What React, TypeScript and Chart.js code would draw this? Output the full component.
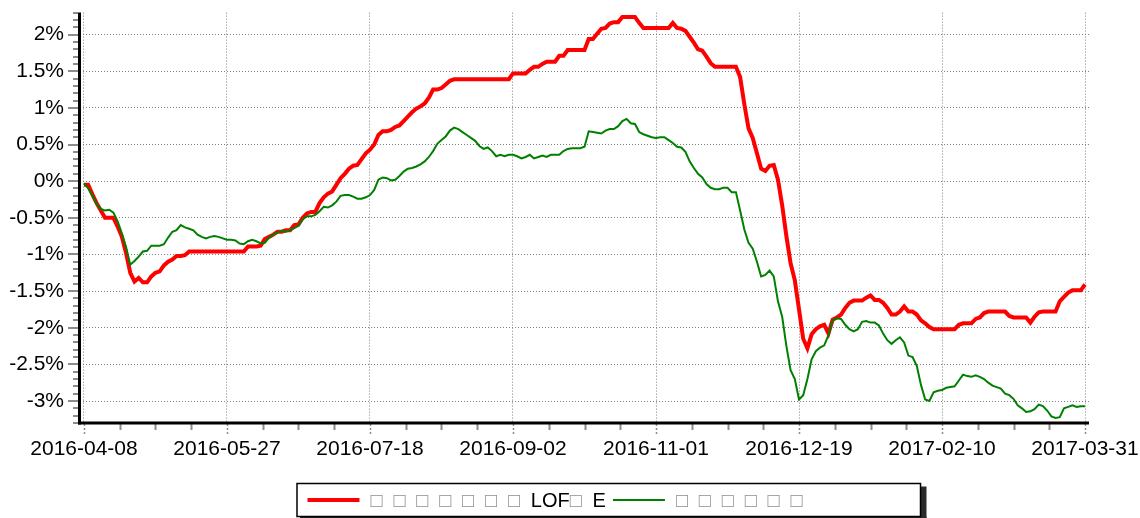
import React, { useEffect, useRef } from 'react';
import { Chart, registerables } from 'chart.js';

Chart.register(...registerables);

// ---- data ----
const tickDates = ['2016-04-08', '2016-05-27', '2016-07-18', '2016-09-02', '2016-11-01', '2016-12-19', '2017-02-10', '2017-03-31'];
const POINTS_PER_LABEL = 34;
const yTickValues = [-3, -2.5, -2, -1.5, -1, -0.5, 0, 0.5, 1, 1.5, 2];

const FUND_LABEL = '□□□□□□□LOF□E';
const BENCH_LABEL = '□□□□□□';

const fundValues = [
  -0.05, -0.05, -0.18, -0.30, -0.40, -0.50, -0.50, -0.50, -0.62, -0.76,
  -0.98, -1.25, -1.37, -1.32, -1.38, -1.38, -1.30, -1.25, -1.23, -1.15,
  -1.10, -1.07, -1.02, -1.02, -1.01, -0.96, -0.96, -0.96, -0.96, -0.96,
  -0.96, -0.96, -0.96, -0.96, -0.96, -0.96, -0.96, -0.96, -0.96, -0.89,
  -0.89, -0.89, -0.88, -0.79, -0.76, -0.73, -0.69, -0.69, -0.67, -0.67,
  -0.60, -0.59, -0.50, -0.44, -0.42, -0.42, -0.30, -0.22, -0.17, -0.14,
  -0.05, 0.04, 0.10, 0.17, 0.21, 0.22, 0.30, 0.38, 0.43, 0.50,
  0.63, 0.68, 0.68, 0.70, 0.74, 0.76, 0.82, 0.88, 0.94, 0.99,
  1.02, 1.06, 1.14, 1.25, 1.25, 1.27, 1.32, 1.37, 1.39, 1.39,
  1.39, 1.39, 1.39, 1.39, 1.39, 1.39, 1.39, 1.39, 1.39, 1.39,
  1.39, 1.39, 1.47, 1.47, 1.47, 1.47, 1.52, 1.56, 1.56, 1.60,
  1.63, 1.63, 1.63, 1.71, 1.71, 1.79, 1.79, 1.79, 1.79, 1.79,
  1.94, 1.94, 2.01, 2.08, 2.09, 2.15, 2.17, 2.17, 2.24, 2.24,
  2.24, 2.24, 2.16, 2.09, 2.09, 2.09, 2.09, 2.09, 2.09, 2.09,
  2.16, 2.09, 2.08, 2.05, 1.97, 1.89, 1.80, 1.78, 1.70, 1.61,
  1.56, 1.56, 1.56, 1.56, 1.56, 1.56, 1.42, 1.05, 0.72, 0.59,
  0.38, 0.17, 0.14, 0.21, 0.22, 0.02, -0.33, -0.75, -1.12, -1.35,
  -1.75, -2.15, -2.28, -2.09, -2.02, -1.98, -1.96, -2.08, -1.89, -1.86,
  -1.82, -1.73, -1.66, -1.63, -1.63, -1.63, -1.59, -1.56, -1.62, -1.62,
  -1.66, -1.73, -1.82, -1.82, -1.78, -1.71, -1.78, -1.78, -1.82, -1.90,
  -1.94, -1.99, -2.02, -2.02, -2.02, -2.02, -2.02, -2.02, -1.96, -1.94,
  -1.94, -1.94, -1.88, -1.86, -1.80, -1.78, -1.78, -1.78, -1.78, -1.78,
  -1.84, -1.86, -1.86, -1.86, -1.86, -1.93, -1.85, -1.79, -1.78, -1.78,
  -1.78, -1.78, -1.64, -1.58, -1.52, -1.49, -1.49, -1.49, -1.41,
];

const benchValues = [
  -0.03, -0.10, -0.20, -0.31, -0.38, -0.40, -0.39, -0.43, -0.55, -0.71,
  -0.90, -1.14, -1.09, -1.03, -0.96, -0.95, -0.88, -0.88, -0.88, -0.86,
  -0.77, -0.69, -0.67, -0.60, -0.63, -0.65, -0.67, -0.73, -0.76, -0.78,
  -0.76, -0.75, -0.76, -0.78, -0.80, -0.80, -0.81, -0.85, -0.86, -0.82,
  -0.80, -0.82, -0.85, -0.84, -0.77, -0.73, -0.70, -0.68, -0.69, -0.67,
  -0.64, -0.61, -0.52, -0.48, -0.48, -0.46, -0.41, -0.35, -0.36, -0.33,
  -0.28, -0.20, -0.19, -0.19, -0.21, -0.24, -0.24, -0.22, -0.19, -0.12,
  0.02, 0.05, 0.04, 0.01, 0.02, 0.07, 0.13, 0.17, 0.18, 0.20,
  0.23, 0.27, 0.33, 0.41, 0.51, 0.56, 0.61, 0.69, 0.73, 0.71,
  0.67, 0.63, 0.59, 0.55, 0.48, 0.44, 0.46, 0.41, 0.34, 0.36,
  0.34, 0.36, 0.36, 0.34, 0.31, 0.33, 0.36, 0.31, 0.33, 0.35,
  0.33, 0.36, 0.36, 0.36, 0.41, 0.44, 0.45, 0.45, 0.45, 0.47,
  0.68, 0.67, 0.66, 0.65, 0.69, 0.71, 0.71, 0.75, 0.82, 0.85,
  0.79, 0.78, 0.67, 0.64, 0.62, 0.60, 0.59, 0.60, 0.60, 0.56,
  0.52, 0.47, 0.46, 0.40, 0.27, 0.18, 0.10, 0.05, -0.04, -0.09,
  -0.11, -0.11, -0.09, -0.09, -0.15, -0.15, -0.40, -0.66, -0.84, -0.92,
  -1.10, -1.30, -1.28, -1.22, -1.30, -1.64, -1.85, -2.25, -2.58, -2.70,
  -2.98, -2.92, -2.70, -2.43, -2.32, -2.27, -2.24, -2.10, -1.90, -1.87,
  -1.88, -1.96, -2.02, -2.05, -2.02, -1.92, -1.91, -1.93, -1.93, -1.97,
  -2.08, -2.17, -2.22, -2.17, -2.13, -2.20, -2.38, -2.40, -2.52, -2.78,
  -2.98, -3.00, -2.88, -2.86, -2.85, -2.82, -2.81, -2.80, -2.72, -2.64,
  -2.66, -2.67, -2.65, -2.67, -2.70, -2.75, -2.79, -2.81, -2.83, -2.90,
  -2.92, -2.97, -3.06, -3.10, -3.15, -3.14, -3.11, -3.05, -3.07, -3.13,
  -3.21, -3.23, -3.22, -3.10, -3.08, -3.06, -3.08, -3.07, -3.07,
];

// ---- styling ----
const FONT = "'Liberation Sans', Arial, sans-serif";
const GRID_COLOR = '#808080';
const TICK_COLOR = '#8c8c8c';
const LAST_INDEX = fundValues.length - 1;
const X_PAD = 0.95;
const Y_MIN = -3.3;
const Y_MAX = 2.3;

const LEGEND = { left: 297, top: 483.5, right: 920.5, bottom: 516.5, lineLen: 52, baseline: 506.5, midY: 500 };
const TOFU_ADVANCE = 22.9;

const axisDecor = {
  id: 'axisDecor',
  afterDraw(chart: any) {
    const { ctx, chartArea: a } = chart;
    const xs = chart.scales.x;
    const ys = chart.scales.y;
    ctx.save();
    // y ticks (major every 0.5, minor every 0.1)
    ctx.strokeStyle = TICK_COLOR;
    ctx.lineWidth = 2;
    for (let k = Math.round(Y_MIN * 10); k <= Math.round(Y_MAX * 10); k++) {
      const py = Math.round(ys.getPixelForValue(k / 10));
      const len = k % 5 === 0 ? 10 : 5;
      ctx.beginPath();
      ctx.moveTo(a.left - 2 - len, py);
      ctx.lineTo(a.left - 2, py);
      ctx.stroke();
    }
    // x ticks (major at labels, minor at quarters)
    const quarter = POINTS_PER_LABEL / 4;
    const nq = Math.round(LAST_INDEX / quarter);
    for (let k = 0; k <= nq; k++) {
      const px = Math.round(xs.getPixelForValue(k * quarter)) + 0.5;
      const major = k % 4 === 0;
      ctx.lineWidth = major ? 1.5 : 2;
      ctx.setLineDash(major ? [2, 2] : []);
      ctx.beginPath();
      ctx.moveTo(px, a.bottom + 1);
      ctx.lineTo(px, a.bottom + (major ? 11 : 7));
      ctx.stroke();
    }
    ctx.setLineDash([]);
    // axis lines
    ctx.strokeStyle = '#000';
    ctx.lineWidth = 3;
    ctx.beginPath();
    ctx.moveTo(a.left - 0.5, a.top);
    ctx.lineTo(a.left - 0.5, a.bottom + 1.5);
    ctx.stroke();
    ctx.beginPath();
    ctx.moveTo(a.left - 2, a.bottom);
    ctx.lineTo(a.right, a.bottom);
    ctx.stroke();
    ctx.restore();
  },
};

function drawLabel(ctx: CanvasRenderingContext2D, text: string, x: number, y: number) {
  let cx = x;
  for (const ch of Array.from(text)) {
    if (ch === '□') {
      ctx.fillStyle = '#8f8f8f';
      ctx.fillText(ch, cx, y);
      cx += TOFU_ADVANCE;
    } else {
      ctx.fillStyle = '#000';
      ctx.fillText(ch, cx, y);
      cx += ctx.measureText(ch).width;
    }
  }
  return cx;
}

const boxLegend = {
  id: 'boxLegend',
  afterDraw(chart: any) {
    const { ctx } = chart;
    const b = LEGEND;
    const w = b.right - b.left;
    const h = b.bottom - b.top;
    ctx.save();
    ctx.fillStyle = '#2a2a2a';
    ctx.fillRect(b.right, b.top + 3, 6, h + 3);
    ctx.fillRect(b.left + 3, b.bottom, w + 3, 6);
    ctx.fillStyle = '#fff';
    ctx.fillRect(b.left, b.top, w, h);
    ctx.strokeStyle = '#000';
    ctx.lineWidth = 1.5;
    ctx.strokeRect(b.left, b.top, w, h);
    ctx.font = `20px ${FONT}`;
    ctx.textBaseline = 'alphabetic';
    ctx.textAlign = 'left';
    let x = b.left + 10.5;
    chart.data.datasets.forEach((ds: any) => {
      ctx.strokeStyle = ds.borderColor;
      ctx.lineWidth = ds.borderWidth;
      ctx.beginPath();
      ctx.moveTo(x, b.midY);
      ctx.lineTo(x + b.lineLen, b.midY);
      ctx.stroke();
      x += b.lineLen + 11;
      x = drawLabel(ctx, ds.label, x, b.baseline);
      x += 7;
    });
    ctx.restore();
  },
};

export default function App() {
  const ref = useRef<HTMLCanvasElement>(null);
  useEffect(() => {
    if (!ref.current) return;
    const chart = new Chart(ref.current, {
      type: 'line',
      data: {
        datasets: [
          {
            label: FUND_LABEL,
            data: fundValues.map((y, i) => ({ x: i, y })),
            borderColor: '#ff0000',
            borderWidth: 4,
            pointRadius: 0,
            tension: 0,
            fill: false,
            order: 2,
          },
          {
            label: BENCH_LABEL,
            data: benchValues.map((y, i) => ({ x: i, y })),
            borderColor: '#008000',
            borderWidth: 2,
            pointRadius: 0,
            tension: 0,
            fill: false,
            order: 1,
          },
        ],
      },
      options: {
        animation: false,
        responsive: false,
        devicePixelRatio: 1,
        layout: { padding: { left: 0, top: 12, right: 51, bottom: 0 } },
        plugins: { legend: { display: false }, tooltip: { enabled: false } },
        scales: {
          x: {
            type: 'linear',
            min: -X_PAD,
            max: LAST_INDEX + X_PAD,
            afterBuildTicks: (s: any) => {
              s.ticks = tickDates.map((_, k) => ({ value: k * POINTS_PER_LABEL }));
            },
            afterFit: (s: any) => {
              s.height = 95;
            },
            ticks: {
              autoSkip: false,
              maxRotation: 0,
              padding: 0,
              color: '#000',
              font: { family: FONT, size: 21 },
              callback: (_v: any, index: number) => tickDates[index] ?? '',
            },
            grid: { drawTicks: true, tickLength: 14, tickColor: 'rgba(0,0,0,0)', color: GRID_COLOR, lineWidth: 1 },
            border: { display: false, dash: [1, 2] },
          },
          y: {
            type: 'linear',
            min: Y_MIN,
            max: Y_MAX,
            afterBuildTicks: (s: any) => {
              s.ticks = yTickValues.map((v) => ({ value: v }));
            },
            afterFit: (s: any) => {
              s.width = 80;
            },
            ticks: {
              padding: 0,
              color: '#000',
              font: { family: FONT, size: 21 },
              callback: (v: any) => `${Number(v)}%`,
            },
            grid: { drawTicks: true, tickLength: 16, tickColor: 'rgba(0,0,0,0)', color: GRID_COLOR, lineWidth: 1 },
            border: { display: false, dash: [1, 2] },
          },
        },
      },
      plugins: [axisDecor, boxLegend],
    } as any);
    return () => chart.destroy();
  }, []);
  return (
    <canvas
      ref={ref}
      width={1140}
      height={518}
      style={{ position: 'fixed', left: 0, top: 0, width: 1140, height: 518, display: 'block', background: '#fff' }}
    />
  );
}
